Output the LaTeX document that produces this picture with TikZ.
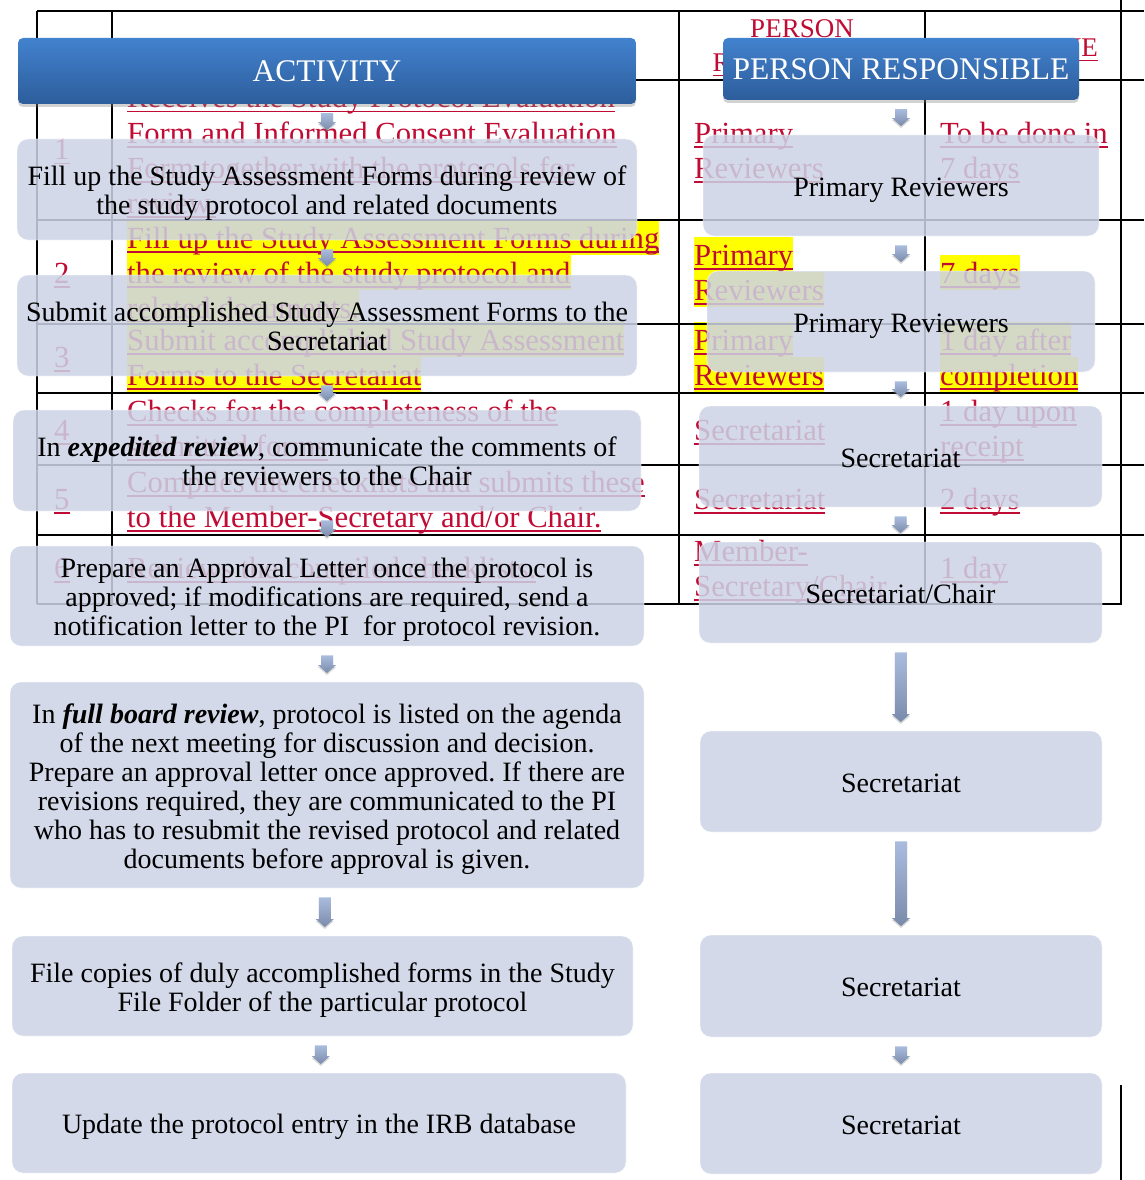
\documentclass[tikz,border=0pt]{standalone}
\usepackage{fontspec}
\setmainfont{Liberation Serif}
\usetikzlibrary{shadows,calc}
\definecolor{redt}{RGB}{192,12,52}
\definecolor{boxf}{RGB}{204,211,230}
\definecolor{hdtop}{RGB}{66,130,206}
\definecolor{hdbot}{RGB}{45,93,155}
\definecolor{arrtop}{RGB}{170,188,222}
\definecolor{arrbot}{RGB}{122,138,170}
\definecolor{hly}{RGB}{255,255,0}
\frenchspacing
\newcommand\ulx[1]{\setbox0=\hbox{#1}\rlap{\rule[-4.5pt]{\wd0}{1.6pt}}\box0}
\newcommand\hlx[1]{\setbox2=\hbox{#1}\rlap{\textcolor{hly}{\rule[-7pt]{\wd2}{35pt}}}\box2}
\newcommand\rt[4]{\node[redtxt] (#1) at (#2,#3) {\ulx{#4}};}
\newcommand\rh[4]{\node[redtxt] (#1) at (#2,#3) {\hlx{\ulx{#4}}};}
\newcommand\bst{\rule[-7pt]{0pt}{35pt}}
\newcommand\est{\rule[-7pt]{0pt}{14pt}}
\newcommand\barrow[2]{\path[barr] let \p1=(#1.south), \p2=(#2.north), \n1={(\x1+\x2)/2}, \n2={\y1-9}, \n3={\y2+8.5} in
 ({\n1*1pt-6pt},{\n2*1pt}) -- ({\n1*1pt+6pt},{\n2*1pt}) -- ({\n1*1pt+6pt},{\n3*1pt+8pt}) -- ({\n1*1pt+9pt},{\n3*1pt+8pt}) -- ({\n1*1pt},{\n3*1pt}) -- ({\n1*1pt-9pt},{\n3*1pt+8pt}) -- ({\n1*1pt-6pt},{\n3*1pt+8pt}) -- cycle;}
\begin{document}
\begin{tikzpicture}[x=1pt,y=-1pt,
 redtxt/.style={anchor=base west, inner sep=0pt, text=redt, font=\fontsize{30.7}{35}\selectfont},
 redhd/.style={anchor=base, inner sep=0pt, text=redt, font=\fontsize{27}{35}\selectfont},
 tbl/.style={line width=2pt, black},
 sbox/.style={rounded corners=11pt, fill=boxf, fill opacity=0.86, text opacity=1, draw=white, draw opacity=0.5, line width=0.8pt, align=center, text=black, font=\fontsize{28}{29}\selectfont, inner sep=0pt},
 hbox/.style={rounded corners=5pt, top color=hdtop, bottom color=hdbot, draw=none, text=white, font=\fontsize{31.5}{33}\selectfont, inner sep=0pt, drop shadow={shadow xshift=0pt, shadow yshift=-3pt, opacity=0.35}},
 barr/.style={top color=arrtop, bottom color=arrbot, drop shadow={shadow xshift=0pt,shadow yshift=-2pt,opacity=0.3}}
]
\useasboundingbox (0,0) rectangle (1144,1180);
\fill[white] (0,0) rectangle (1144,1180);
% ---------- background table text ----------
\node[redhd] (h0) at (74,57) {\ulx{No.}};
\node[redhd] (h1) at (395,57) {\ulx{ACTIVITY}};
\node[redhd] (h2a) at (802,38) {\ulx{PERSON}};
\node[redhd] (h2b) at (802,72) {\ulx{RESPONSIBLE}};
\node[redhd] (h3) at (1034,57) {\ulx{TIMELINE}};
% row 1
\rt{n1}{54}{160}{1}
\rt{a1a}{127}{108}{Receives the Study Protocol Evaluation}
\rt{a1b}{127}{143}{Form and Informed Consent Evaluation}
\rt{a1c}{127}{178}{Form together with the protocols for}
\rt{a1d}{127}{213}{review.}
\rt{p1a}{694}{143}{Primary}
\rt{p1b}{694}{178}{Reviewers}
\rt{t1a}{940}{143}{To be done in}
\rt{t1b}{940}{178}{7 days}
% row 2
\rt{n2}{54}{283}{2}
\rh{a2a}{127}{248}{Fill up the Study Assessment Forms during}
\rh{a2b}{127}{283}{the review of the study protocol and}
\rh{a2c}{127}{318}{related documents.}
\rh{p2a}{694}{265}{Primary}
\rh{p2b}{694}{300}{Reviewers}
\rh{t2a}{940}{283}{7 days}
% row 3
\rt{n3}{54}{367}{3}
\rh{a3a}{127}{350}{Submit accomplished Study Assessment}
\rh{a3b}{127}{385}{Forms to the Secretariat}
\rh{p3a}{694}{350}{Primary}
\rh{p3b}{694}{385}{Reviewers}
\rh{t3a}{940}{350}{1 day after}
\rh{t3b}{940}{385}{completion}
% row 4
\rt{n4}{54}{440}{4}
\rt{a4a}{127}{421}{Checks for the completeness of the}
\rt{a4b}{127}{456}{submitted forms}
\rt{p4a}{694}{440}{Secretariat}
\rt{t4a}{940}{421}{1 day upon}
\rt{t4b}{940}{456}{receipt}
% row 5
\rt{n5}{54}{509}{5}
\rt{a5a}{127}{492}{Compiles the checklists and submits these}
\rt{a5b}{127}{527}{to the Member-Secretary and/or Chair.}
\rt{p5a}{694}{509}{Secretariat}
\rt{t5a}{940}{509}{2 days}
% row 6
\rt{n6}{54}{578}{6}
\rt{a6a}{127}{578}{Reviews the compiled checklists.}
\rt{p6a}{694}{561}{Member-}
\rt{p6b}{694}{596}{Secretary/Chair}
\rt{t6a}{940}{578}{1 day}
% ---------- table rules ----------
\draw[tbl] (37,11) -- (1144,11);
\foreach \yy in {80,220,324,393,465,535} {\draw[tbl] (37,\yy) -- (1144,\yy);}
\draw[tbl] (37,604) -- (1122,604);
\foreach \xx in {37,112,679,925} {\draw[tbl] (\xx,11) -- (\xx,604);}
\draw[tbl] (1121,0) -- (1121,605);
\draw[tbl] (1121,1085) -- (1121,1180);
% ---------- flow boxes ----------
\node[hbox, minimum width=618pt, minimum height=66pt] (HA) at (327,71) {ACTIVITY};
\node[hbox, minimum width=356pt, minimum height=62pt] (HB) at (901,69) {PERSON RESPONSIBLE};
\node[sbox, minimum width=620pt, minimum height=101pt] (A1) at (327,189.5) {\bst Fill up the Study Assessment Forms during review of\\the study protocol and related documents\est};
\node[sbox, minimum width=620pt, minimum height=101pt] (A2) at (327,325.5) {\bst Submit accomplished Study Assessment Forms to the\\Secretariat\est};
\node[sbox, minimum width=628pt, minimum height=101pt] (A3) at (327,460.5) {\bst In \textbf{\textit{expedited review}}, communicate the comments of\\the reviewers to the Chair\est};
\node[sbox, minimum width=634pt, minimum height=100pt] (A4) at (327,596) {\bst Prepare an Approval Letter once the protocol is\\approved; if modifications are required, send a\\notification letter to the PI\ \ for protocol revision.\est};
\node[sbox, minimum width=634pt, minimum height=206pt] (A5) at (327,785) {\bst In \textbf{\textit{full board review}}, protocol is listed on the agenda\\of the next meeting for discussion and decision.\\Prepare an approval letter once approved. If there are\\revisions required, they are communicated to the PI\\who has to resubmit the revised protocol and related\\documents before approval is given.\est};
\node[sbox, minimum width=621pt, minimum height=100pt] (A6) at (322.5,986) {\bst File copies of duly accomplished forms in the Study\\File Folder of the particular protocol\est};
\node[sbox, minimum width=614pt, minimum height=100pt] (A7) at (319,1123) {\bst Update the protocol entry in the IRB database\est};
\node[sbox, minimum width=396pt, minimum height=101pt] (B1) at (901,185.5) {\bst Primary Reviewers\est};
\node[sbox, minimum width=388pt, minimum height=101pt] (B2) at (901,321.5) {\bst Primary Reviewers\est};
\node[sbox, minimum width=403pt, minimum height=101pt] (B3) at (900.5,456.5) {\bst Secretariat\est};
\node[sbox, minimum width=403pt, minimum height=101pt] (B4) at (900.5,592.5) {\bst Secretariat/Chair\est};
\node[sbox, minimum width=402pt, minimum height=101pt] (B5) at (901,781.5) {\bst Secretariat\est};
\node[sbox, minimum width=402pt, minimum height=102pt] (B6) at (901,986) {\bst Secretariat\est};
\node[sbox, minimum width=402pt, minimum height=101pt] (B7) at (901,1123.5) {\bst Secretariat\est};
% ---------- arrows ----------
\barrow{HA}{A1}
\barrow{A1}{A2}
\barrow{A2}{A3}
\barrow{A3}{A4}
\barrow{A4}{A5}
\barrow{A5}{A6}
\barrow{A6}{A7}
\barrow{HB}{B1}
\barrow{B1}{B2}
\barrow{B2}{B3}
\barrow{B3}{B4}
\barrow{B4}{B5}
\barrow{B5}{B6}
\barrow{B6}{B7}
\end{tikzpicture}
\end{document}
